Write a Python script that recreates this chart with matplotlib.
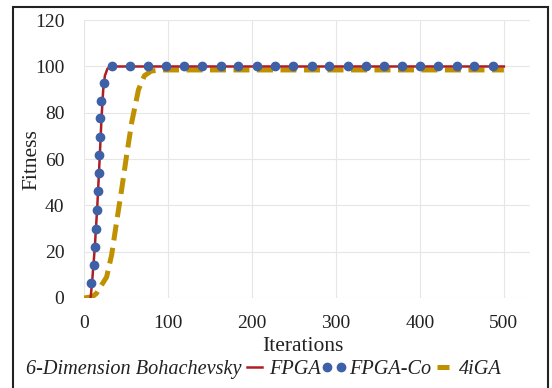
import matplotlib.pyplot as plt
from matplotlib.lines import Line2D

plt.rcParams["font.family"] = "Liberation Serif"

# FPGA - solid red line
fpga_x = [8, 10, 13, 16, 19, 21, 23, 25, 28, 32, 500]
fpga_y = [0, 8, 22, 40, 62, 78, 90, 96, 99, 100, 100]

# FPGA-Co - blue dots
co_x = [9, 12, 13.5, 14.5, 15.5, 16.5, 17.5, 18.2, 19, 19.5, 20.5, 24,
        33, 55, 76, 98, 119, 141, 163, 184, 206, 227, 249, 271, 292, 314,
        336, 357, 379, 400, 422, 444, 465, 487]
co_y = [6.6, 14.2, 22, 30, 38, 46, 54, 61.7, 69.6, 77.6, 85, 92.7,
        100, 100, 100, 100, 100, 100, 100, 100, 100, 100, 100, 100, 100, 100,
        100, 100, 100, 100, 100, 100, 100, 100]

# 4iGA - gold dashed line
iga_x = [0, 10, 15, 20, 27, 33, 39, 45, 51, 57, 65, 72, 80, 90, 500]
iga_y = [0, 0.5, 2, 5, 9, 18.6, 33, 47, 62, 76, 90, 96, 98, 98.5, 98.5]

red = "#B01E23"
blue = "#3E60A6"
gold = "#BF9000"
ink = "#222222"

fig = plt.figure(figsize=(5.52, 3.88), dpi=100)
ax = fig.add_axes([0.152, 0.232, 0.808, 0.716])

ax.plot(fpga_x, fpga_y, color=red, lw=1.8, zorder=3)
ax.plot(iga_x, iga_y, color=gold, lw=3.6, ls=(0, (3.2, 1.5)), zorder=2)
ax.plot(co_x, co_y, "o", color=blue, ms=6, zorder=4)

ax.set_xlim(0, 531)
ax.set_ylim(0, 120)
ax.set_xticks(range(0, 501, 100))
ax.set_yticks(range(0, 121, 20))
ax.grid(True, color="#E6E6E6", lw=0.8)
ax.set_axisbelow(True)
for s in ax.spines.values():
    s.set_visible(False)
ax.tick_params(length=0, labelsize=14, colors=ink)
ax.tick_params(axis="y", pad=14)
ax.tick_params(axis="x", pad=12)

ax.set_xlabel("Iterations", fontsize=15.5, color=ink)
ax.xaxis.set_label_coords(0.49, -0.14)
ax.set_ylabel("Fitness", fontsize=15.5, color=ink)
ax.yaxis.set_label_coords(-0.095, 0.5)

# legend row along the bottom
fig.text(0.048, 0.047, "6-Dimension Bohachevsky", fontsize=14.6,
         style="italic", color=ink, va="center")
handles = [
    Line2D([], [], color=red, lw=1.8),
    Line2D([], [], ls="none", marker="o", color=blue, ms=6),
    Line2D([], [], color=gold, lw=3.6, ls=(0, (2.4, 1.2))),
]
fig.legend(handles, ["FPGA", "FPGA-Co", "4iGA"], ncol=3, frameon=False,
           loc="center left", bbox_to_anchor=(0.437, 0.047),
           prop={"style": "italic", "size": 14.6}, handlelength=1.3,
           handletextpad=0.08, columnspacing=0.0, numpoints=2,
           labelcolor=ink, borderaxespad=0, borderpad=0)

# outer frame
fig.patches.append(plt.Rectangle((0.024, -0.1), 0.969, 1.082,
                                 transform=fig.transFigure, fill=False,
                                 edgecolor=ink, lw=1.5))

fig.savefig("out.png", dpi=100)
